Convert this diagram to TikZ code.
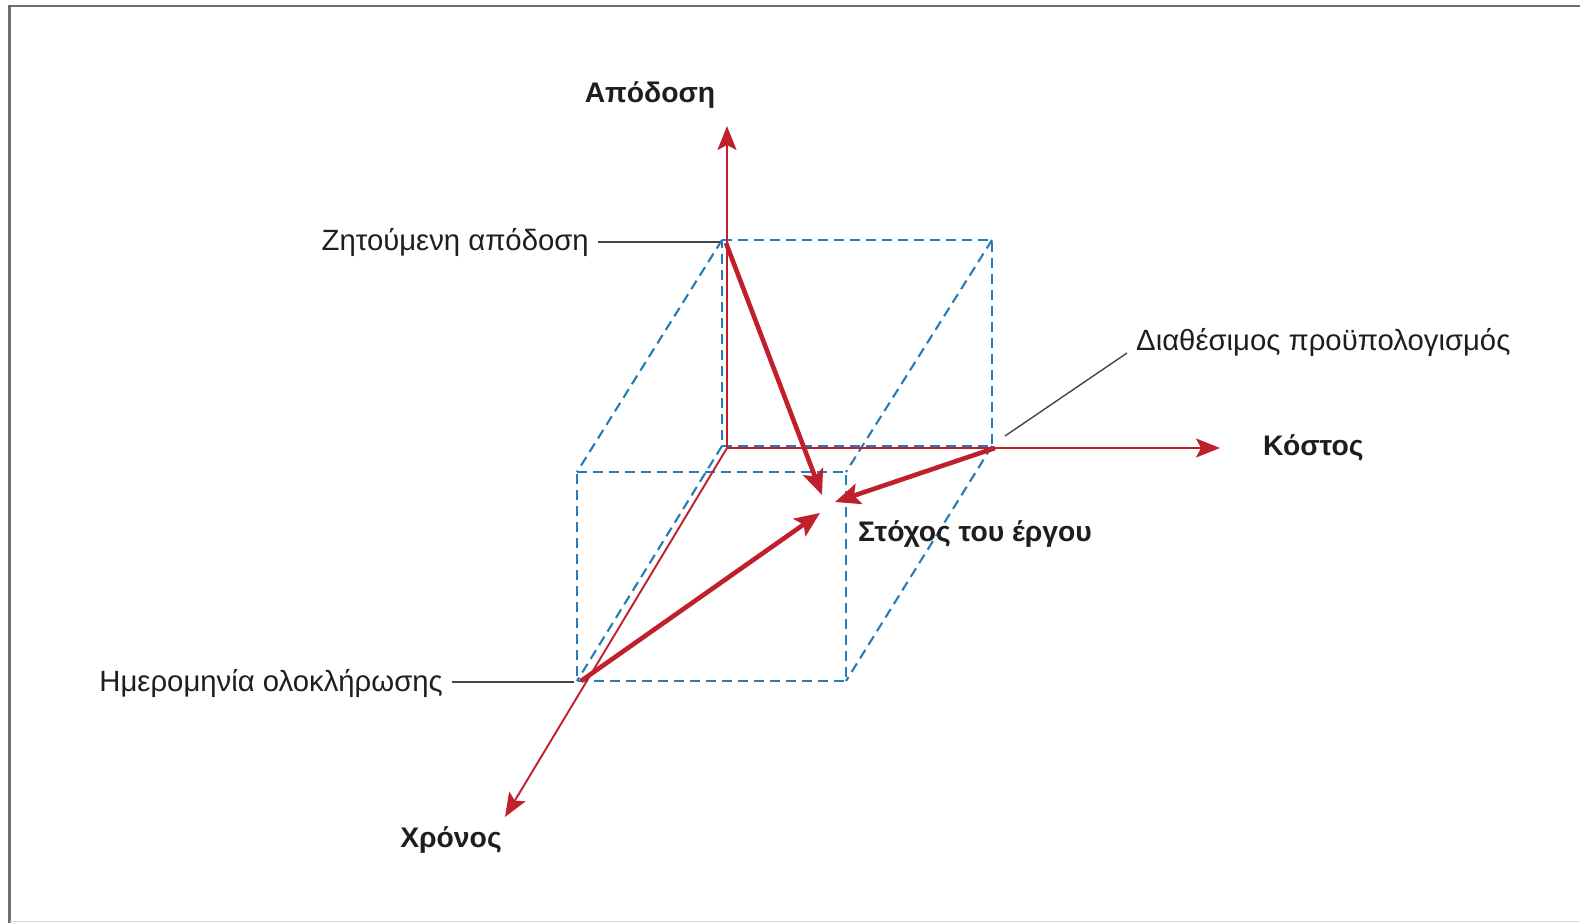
\documentclass[tikz,border=0pt]{standalone}
\usepackage{fontspec}
\setmainfont{Liberation Sans}
\usetikzlibrary{arrows.meta}
\definecolor{axisred}{RGB}{192,32,44}
\definecolor{cubeblue}{RGB}{36,124,182}
\definecolor{leadergray}{RGB}{70,70,70}
\definecolor{framegray}{RGB}{110,110,110}
\definecolor{inkgray}{RGB}{30,30,30}

\begin{document}
\begin{tikzpicture}[x=1pt,y=-1pt,
  cube/.style={cubeblue, line width=2.1pt, dash pattern=on 10pt off 6pt},
  axis/.style={axisred, line width=1.9pt, -{Stealth[length=24pt,width=19pt,inset=5pt]}},
  vec/.style={axisred, line width=4.6pt, -{Stealth[length=25pt,width=21pt,inset=5pt]}},
  leader/.style={leadergray, line width=1.4pt},
  lbl/.style={font=\fontsize{29.3}{35}\selectfont, text=inkgray, inner sep=0pt},
  axlbl/.style={font=\fontsize{28.3}{34}\selectfont\bfseries, text=inkgray, inner sep=0pt}]

% canvas and frame
\useasboundingbox (0,0) rectangle (1580,923);
\fill[white] (0,0) rectangle (1580,923);
\draw[framegray, line width=2.2pt] (9.5,923) -- (9.5,6) -- (1580,6);
\draw[black!15, line width=1pt] (9.5,921.5) -- (1580,921.5);

% corners of the box (back face and front face)
\coordinate (B1) at (722,240);
\coordinate (B2) at (992,240);
\coordinate (B3) at (992,446);
\coordinate (B4) at (722,446);
\coordinate (F1) at (577,472);
\coordinate (F2) at (846,472);
\coordinate (F3) at (846,681);
\coordinate (F4) at (577,681);

% dashed wire-frame box
\draw[cube] (B1) -- (B2) -- (B3) -- (B4) -- cycle;
\draw[cube] (F1) -- (F2) -- (F3) -- (F4) -- cycle;
\draw[cube] (B1) -- (F1);
\draw[cube] (B2) -- (F2);
\draw[cube] (B3) -- (F3);
\draw[cube] (B4) -- (F4);

% the three axes
\coordinate (O) at (727,448);
\coordinate (Ytip) at (727,126);
\coordinate (Xtip) at (1220,448);
\coordinate (Ztip) at (505,817);
\draw[axis] (O) -- (Ytip);
\draw[axis] (O) -- (Xtip);
\draw[axis] (O) -- (Ztip);

% vectors towards the project target
\coordinate (P1) at (726,243);
\coordinate (P2) at (995,448);
\coordinate (P3) at (581,681);
\coordinate (T1) at (822,495);
\coordinate (T2) at (835,502);
\coordinate (T3) at (820,513);
\draw[vec] (P1) -- (T1);
\draw[vec] (P2) -- (T2);
\draw[vec] (P3) -- (T3);

% axis labels
\node[axlbl, anchor=base] (perf) at (650,103) {Απόδοση};
\node[axlbl, anchor=base west] (cost) at (1263,455) {Κόστος};
\node[axlbl, anchor=base] (time) at (451,847) {Χρόνος};
\node[axlbl, anchor=base west] (goal) at (858,541) {Στόχος του έργου};

% annotated points with leader lines
\node[lbl, anchor=base east] (reqperf) at (589,250) {Ζητούμενη απόδοση};
\node[lbl, anchor=base west] (budget) at (1136,350) {Διαθέσιμος προϋπολογισμός};
\node[lbl, anchor=base east] (date) at (443,691) {Ημερομηνία ολοκλήρωσης};

\coordinate (L1a) at (598,242);
\coordinate (L1b) at (720,242);
\coordinate (L2a) at (1127,353);
\coordinate (L2b) at (1005,436);
\coordinate (L3a) at (452,682);
\coordinate (L3b) at (574,682);
\draw[leader] (L1a) -- (L1b);
\draw[leader] (L2a) -- (L2b);
\draw[leader] (L3a) -- (L3b);
\end{tikzpicture}
\end{document}
